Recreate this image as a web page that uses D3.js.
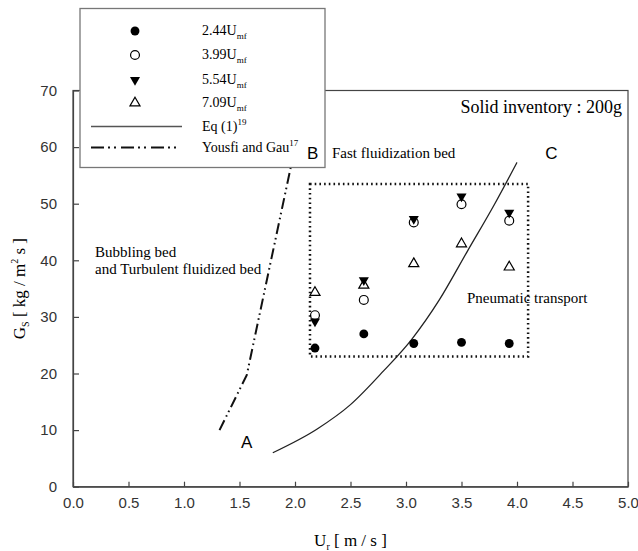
<!DOCTYPE html>
<html>
<head>
<meta charset="utf-8">
<script src="https://cdn.jsdelivr.net/npm/d3@7"></script>
<style>
  body { margin: 0; background: #fff; }
  svg { display: block; }
  .serif { font-family: "Liberation Serif", "Times New Roman", serif; }
  .axis text { font-family: "Liberation Sans", Arial, sans-serif; font-size: 15px; fill: #333; }
  .axis path, .axis line { stroke: #444; stroke-width: 1.2; }
</style>
</head>
<body>
<svg id="chart" width="638" height="551"></svg>
<script>
// velocity columns (m/s) shared by all four series
var ur = [2.18, 2.62, 3.07, 3.50, 3.93];
var gs244 = [24.5, 27.0, 25.3, 25.5, 25.3];
var gs399 = [30.3, 33.0, 46.7, 49.9, 47.0];
var gs554 = [29.2, 36.5, 47.3, 51.3, 48.4];
var gs709 = [34.3, 35.6, 39.4, 42.9, 38.8];

// Eq (1) curve and Yousfi & Gau line, [Ur, Gs]
var eqCurve = [[1.80, 6.0], [2.2, 10.2], [2.5, 14.5], [2.8, 20.5], [3.05, 26.0], [3.3, 33.0], [3.55, 41.5], [3.8, 50.0], [4.0, 57.3]];
var yousfi = [[1.32, 10.0], [1.565, 19.7], [2.0, 60.0]];

// dotted box around the pneumatic transport region
var boxX = [2.135, 4.10];
var boxY = [23.0, 53.5];

// point labels A, B, C
var pointLabels = [["A", 1.565, 6.9], ["B", 2.16, 57.9], ["C", 4.31, 57.9]];

var xTicks = [0, 0.5, 1, 1.5, 2, 2.5, 3, 3.5, 4, 4.5, 5];
var yTicks = [0, 10, 20, 30, 40, 50, 60, 70];

var svg = d3.select("#chart");

var x = d3.scaleLinear().domain([0, 5]).range([73, 628]);
var y = d3.scaleLinear().domain([0, 70]).range([486.7, 90.5]);

// frame
svg.append("rect")
  .attr("x", x(0)).attr("y", y(70))
  .attr("width", x(5) - x(0)).attr("height", y(0) - y(70))
  .attr("fill", "none").attr("stroke", "#444").attr("stroke-width", 1.2);

svg.append("g")
  .attr("class", "axis")
  .attr("transform", "translate(0," + y(0) + ")")
  .call(d3.axisBottom(x).tickValues(xTicks).tickFormat(d3.format(".1f")).tickSize(-5).tickPadding(11).tickSizeOuter(0));

svg.append("g")
  .attr("class", "axis")
  .attr("transform", "translate(" + x(0) + ",0)")
  .call(d3.axisLeft(y).tickValues(yTicks).tickFormat(d3.format("d")).tickSize(-6).tickPadding(16).tickSizeOuter(0));

// dotted region
svg.append("rect")
  .attr("x", x(boxX[0])).attr("y", y(boxY[1]))
  .attr("width", x(boxX[1]) - x(boxX[0])).attr("height", y(boxY[0]) - y(boxY[1]))
  .attr("fill", "none").attr("stroke", "#111")
  .attr("stroke-width", 2.5).attr("stroke-dasharray", "1.6,3.1");

var line = d3.line().x(function(d) { return x(d[0]); }).y(function(d) { return y(d[1]); });

svg.append("path")
  .attr("d", line.curve(d3.curveMonotoneX)(eqCurve))
  .attr("fill", "none").attr("stroke", "#222").attr("stroke-width", 1.3);

svg.append("path")
  .attr("d", d3.line().x(function(d) { return x(d[0]); }).y(function(d) { return y(d[1]); })(yousfi))
  .attr("fill", "none").attr("stroke", "#111").attr("stroke-width", 2)
  .attr("stroke-dasharray", "11,4,1.6,3.5,1.6,4");

// marker shapes
var circleSym = d3.symbol().type(d3.symbolCircle).size(62);
var triSym = d3.symbol().type(d3.symbolTriangle).size(44);

function drawSeries(vals, kind) {
  var g = svg.append("g");
  vals.forEach(function(v, i) {
    addMarker(g, x(ur[i]), y(v), kind);
  });
}

function addMarker(g, cx, cy, kind) {
  var p = g.append("path");
  if (kind == "fc" || kind == "oc") p.attr("d", circleSym());
  else p.attr("d", triSym());
  var rot = kind == "ft" ? 180 : 0;
  p.attr("transform", "translate(" + cx + "," + cy + ") rotate(" + rot + ")");
  if (kind == "fc" || kind == "ft") p.attr("fill", "#000");
  else p.attr("fill", "none").attr("stroke", "#000").attr("stroke-width", 1.2);
}

drawSeries(gs244, "fc");
drawSeries(gs399, "oc");
drawSeries(gs554, "ft");
drawSeries(gs709, "ot");

// region labels
function serifText(tx, ty, size, str, anchor) {
  return svg.append("text").attr("class", "serif")
    .attr("x", tx).attr("y", ty)
    .attr("font-size", size).attr("text-anchor", anchor || "start")
    .text(str);
}

serifText(622, 113, 18, "Solid inventory : 200g", "end");
serifText(332, 158, 15, "Fast fluidization bed");
serifText(95, 257, 15, "Bubbling bed");
serifText(95, 274, 15, "and Turbulent fluidized bed");
serifText(467, 303, 15, "Pneumatic transport");

// legend
var lg = svg.append("g");
lg.append("rect")
  .attr("x", 80).attr("y", 8.5).attr("width", 245).attr("height", 159)
  .attr("fill", "#fff").attr("stroke", "#777").attr("stroke-width", 1.3);

var legendRows = [
  {kind: "fc", num: "2.44U", sub: "mf"},
  {kind: "oc", num: "3.99U", sub: "mf"},
  {kind: "ft", num: "5.54U", sub: "mf"},
  {kind: "ot", num: "7.09U", sub: "mf"}
];
var rowY = [31, 55, 80, 103];

legendRows.forEach(function(r, i) {
  addMarker(lg, 135, rowY[i], r.kind);
  var t = lg.append("text").attr("class", "serif").attr("x", 202).attr("y", rowY[i] + 4).attr("font-size", 14);
  t.append("tspan").text(r.num);
  t.append("tspan").attr("font-size", 9).attr("dy", 4).text(r.sub);
});

lg.append("line").attr("x1", 91).attr("x2", 182).attr("y1", 126.5).attr("y2", 126.5)
  .attr("stroke", "#555").attr("stroke-width", 1.5);
lg.append("line").attr("x1", 91).attr("x2", 180).attr("y1", 147.5).attr("y2", 147.5)
  .attr("stroke", "#111").attr("stroke-width", 2)
  .attr("stroke-dasharray", "13,4,2,4,2,5");

var t1 = lg.append("text").attr("class", "serif").attr("x", 202).attr("y", 131).attr("font-size", 14);
t1.append("tspan").text("Eq (1)");
t1.append("tspan").attr("font-size", 9).attr("dy", -6).text("19");
var t2 = lg.append("text").attr("class", "serif").attr("x", 202).attr("y", 152).attr("font-size", 14);
t2.append("tspan").text("Yousfi and Gau");
t2.append("tspan").attr("font-size", 9).attr("dy", -6).text("17");

// A, B, C go on top of the legend box
svg.selectAll(".pt")
  .data(pointLabels)
  .enter().append("text")
  .attr("class", "pt")
  .attr("x", function(d) { return x(d[1]); })
  .attr("y", function(d) { return y(d[2]); })
  .attr("text-anchor", "middle")
  .attr("font-family", "Liberation Sans, Arial, sans-serif")
  .attr("font-size", 17)
  .text(function(d) { return d[0]; });

// axis titles
var xt = svg.append("text").attr("class", "serif")
  .attr("x", (x(0) + x(5)) / 2).attr("y", 546)
  .attr("text-anchor", "middle").attr("font-size", 17);
xt.append("tspan").text("U");
xt.append("tspan").attr("font-size", 10).attr("dy", 4).text("r");
xt.append("tspan").attr("dy", -4).text(" [ m / s ]");

var yt = svg.append("text").attr("class", "serif")
  .attr("transform", "translate(25," + ((y(0) + y(70)) / 2) + ") rotate(-90)")
  .attr("text-anchor", "middle").attr("font-size", 17);
yt.append("tspan").text("G");
yt.append("tspan").attr("font-size", 10).attr("dy", 4).text("S");
yt.append("tspan").attr("dy", -4).text(" [ kg / m");
yt.append("tspan").attr("font-size", 10).attr("dy", -7).text("2");
yt.append("tspan").attr("dy", 7).text(" s ]");
</script>
</body>
</html>
